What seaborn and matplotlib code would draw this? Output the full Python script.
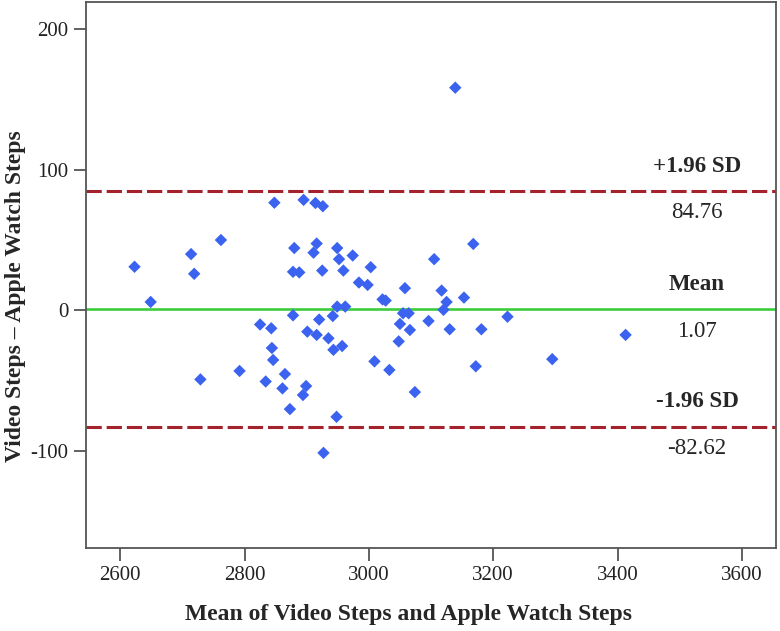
import numpy as np
import pandas as pd
import seaborn as sns
import matplotlib
matplotlib.use("Agg")
import matplotlib.pyplot as plt

# Bland-Altman data
mean_steps = [
    2623, 2649, 2714, 2719, 2762, 2729, 2792, 2848, 2895, 2914,
    2926, 2880, 2916, 2911, 2949, 2952, 2974, 2878, 2888, 2925,
    2959, 2984, 2998, 3003, 3022, 3027, 3058, 3105, 3168, 3139,
    3117, 3125, 3153, 2949, 2962, 2878, 2920, 2942, 3055, 3064,
    3096, 3120, 3223, 3050, 3066, 3130, 3181, 3048, 3009, 3033,
    3074, 3172, 3295, 3413, 2825, 2843, 2844, 2846, 2834, 2865,
    2861, 2873, 2899, 2894, 2901, 2916, 2935, 2943, 2957, 2948,
    2927,
]
diff_steps = [
    31.0, 6.0, 40.0, 26.0, 50.0, -49.0, -43.0, 76.5, 78.5, 76.3,
    74.0, 44.3, 47.5, 41.0, 44.3, 36.4, 39.0, 27.4, 27.0, 28.3,
    28.3, 19.8, 18.1, 30.7, 7.8, 7.0, 15.8, 36.4, 47.2, 158.2,
    14.1, 6.0, 9.1, 2.7, 2.7, -3.5, -6.5, -4.0, -2.0, -2.0,
    -7.5, 0.4, -4.5, -9.6, -13.9, -13.4, -13.4, -22.0, -36.2, -42.3,
    -58.0, -39.7, -34.6, -17.4, -10.0, -12.7, -26.7, -35.2, -50.5, -45.2,
    -55.4, -70.1, -53.7, -60.1, -15.1, -17.4, -19.8, -28.0, -25.3, -75.6,
    -101.2,
]
bias = 1.07
upper_loa = 84.76
lower_loa = -82.62

x_ticks = [2600, 2800, 3000, 3200, 3400, 3600]
y_ticks = [-100, 0, 100, 200]

df = pd.DataFrame({"mean": mean_steps, "diff": diff_steps})

sns.set_theme(style="ticks")
plt.rcParams["font.family"] = ["Liberation Serif", "DejaVu Serif"]
plt.rcParams["axes.unicode_minus"] = False

fig = plt.figure(figsize=(7.8, 6.31), dpi=100)
ax = fig.add_axes([0.1103, 0.131, 0.8846, 0.8657])

sns.scatterplot(data=df, x="mean", y="diff", marker="D", s=40,
                color="#3b63f0", edgecolor="none", ax=ax, zorder=3)

ax.axhline(upper_loa, color="#a3222c", lw=2.2, dashes=(5, 1.6), zorder=2)
ax.axhline(lower_loa, color="#a3222c", lw=2.2, dashes=(5, 1.6), zorder=2)
ax.axhline(bias, color="#3ccc3c", lw=1.9, zorder=2)

ax.set_xlim(2545, 3655)
ax.set_ylim(-169, 219)
ax.set_xticks(x_ticks)
ax.set_yticks(y_ticks)

# annotations on the right
tx = 3528
ax.text(tx, 102, "+1.96 SD", ha="center", va="center", fontsize=16.5, fontweight="bold")
ax.text(tx, 69.4, f"{upper_loa:.2f}", ha="center", va="center", fontsize=16.5)
ax.text(tx, 18.1, "Mean", ha="center", va="center", fontsize=16.5, fontweight="bold")
ax.text(tx, -15.1, f"{bias:.2f}", ha="center", va="center", fontsize=16.5)
ax.text(tx, -64.9, "-1.96 SD", ha="center", va="center", fontsize=16.5, fontweight="bold")
ax.text(tx, -98.1, f"{lower_loa:.2f}", ha="center", va="center", fontsize=16.5)

ax.set_xlabel("Mean of Video Steps and Apple Watch Steps", fontsize=17, fontweight="bold")
ax.set_ylabel("Video Steps \u2013 Apple Watch Steps", fontsize=17, fontweight="bold")
ax.xaxis.set_label_coords(0.467, -0.102)
ax.yaxis.set_label_coords(-0.087, 0.462)

for sp in ax.spines.values():
    sp.set_color("#555555")
    sp.set_linewidth(1.3)
ax.tick_params(axis="both", labelsize=15, colors="#222222", length=9, width=1.3,
               direction="out")
ax.tick_params(axis="both", color="#555555")

fig.savefig("out.png", dpi=100)
